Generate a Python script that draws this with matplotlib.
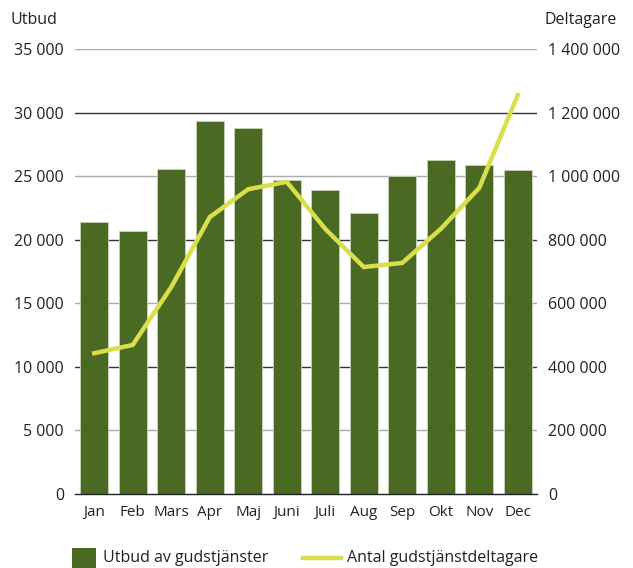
import matplotlib
matplotlib.use("Agg")
import matplotlib.pyplot as plt
from matplotlib.ticker import FuncFormatter
from matplotlib.patches import Rectangle
from matplotlib.lines import Line2D

months = ["Jan", "Feb", "Mars", "Apr", "Maj", "Juni", "Juli", "Aug", "Sep", "Okt", "Nov", "Dec"]
utbud = [21400, 20700, 25600, 29300, 28800, 24700, 23900, 22100, 25000, 26300, 25900, 25500]
deltagare = [443000, 469000, 651000, 871000, 959000, 982000, 834000, 714000, 727000, 834000, 963000, 1255000]
left_ticks = [0, 5000, 10000, 15000, 20000, 25000, 30000, 35000]
right_ticks = [0, 200000, 400000, 600000, 800000, 1000000, 1200000, 1400000]
legend_labels = ["Utbud av gudstjänster", "Antal gudstjänstdeltagare"]

plt.rcParams['font.family'] = ['Open Sans', 'DejaVu Sans']
bar_color = "#4a6a23"
line_color = "#d8df4a"
txt = "#222222"
W, H = 633, 568

fig = plt.figure(figsize=(6.33, 5.68), dpi=100)
ax = fig.add_axes([75/W, 1-494/H, 462/W, 445/H])
x = list(range(len(months)))
ax.bar(x, utbud, width=0.72, color=bar_color, edgecolor="#c9d3b8", linewidth=0.6, zorder=2)
ax.set_xlim(-0.5, 11.5)
ax.set_ylim(0, 35000)
ax.set_yticks(left_ticks)
fmt = FuncFormatter(lambda v, p: f"{int(v):,}".replace(",", " "))
ax.yaxis.set_major_formatter(fmt)
for t in left_ticks[1:]:
    c = "#333333" if (t // 5000) % 2 == 0 else "#aaaaaa"
    ax.axhline(t, color=c, linewidth=1.0, zorder=1)
ax.set_xticks(x)
ax.set_xticklabels(months)
for s in ["top", "right", "left"]:
    ax.spines[s].set_visible(False)
ax.spines["bottom"].set_color("#222222")
ax.spines["bottom"].set_linewidth(1.0)
ax.tick_params(axis="y", length=0, labelsize=11.5, labelcolor=txt, pad=8)
ax.tick_params(axis="x", length=0, labelsize=11, labelcolor=txt, pad=8)

ax2 = ax.twinx()
ax2.plot(x, deltagare, color=line_color, linewidth=3.2, zorder=3, solid_joinstyle="miter")
ax2.set_ylim(0, 1400000)
ax2.set_yticks(right_ticks)
ax2.yaxis.set_major_formatter(fmt)
for s in ["top", "right", "left", "bottom"]:
    ax2.spines[s].set_visible(False)
ax2.tick_params(axis="y", length=0, labelsize=11.5, labelcolor=txt, pad=8)

fig.text(10/W, 1-20/H, "Utbud", ha="left", va="center", fontsize=11.5, color=txt)
fig.text(545/W, 1-20/H, "Deltagare", ha="left", va="center", fontsize=11.5, color=txt)

# legend (manual, figure coordinates)
fig.add_artist(Rectangle((72/W, 1-570/H), 24/W, 22/H, transform=fig.transFigure,
                         facecolor=bar_color, edgecolor="none"))
fig.text(103/W, 1-558/H, legend_labels[0], ha="left", va="center", fontsize=11.5, color=txt)
fig.add_artist(Line2D([303/W, 341/W], [1-558/H, 1-558/H], transform=fig.transFigure,
                      color=line_color, linewidth=3.2))
fig.text(347/W, 1-558/H, legend_labels[1], ha="left", va="center", fontsize=11.5, color=txt)

fig.savefig("out.png", dpi=100)
